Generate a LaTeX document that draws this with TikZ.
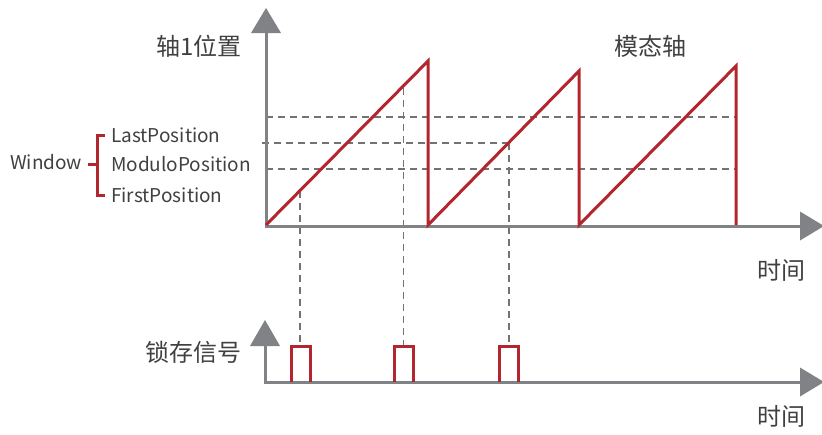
\documentclass[tikz,border=0pt]{standalone}
\usepackage{fontspec}
\setmainfont{Noto Sans CJK SC}
\definecolor{axisgray}{HTML}{808285}
\definecolor{dashgray}{HTML}{737373}
\definecolor{sawred}{HTML}{B3262E}
\definecolor{txt}{HTML}{404040}
\begin{document}
\begin{tikzpicture}[x=1pt,y=-1pt,
  axis/.style={draw=axisgray,line width=3pt},
  tiptri/.style={fill=axisgray},
  saw/.style={draw=sawred,line width=3pt,line join=miter},
  guide/.style={draw=dashgray,line width=1.5pt,dash pattern=on 7pt off 5pt},
  lbl/.style={text=txt,font=\fontsize{24}{24}\selectfont,inner sep=0pt},
  poslbl/.style={text=txt,font=\fontsize{19}{19}\selectfont,inner sep=0pt,anchor=west}]
\useasboundingbox (0,0) rectangle (822,434);
% key points of the sawtooth
\coordinate (s0) at (266,225);
\coordinate (p1) at (428,61);
\coordinate (b1) at (428,225);
\coordinate (p2) at (579,71);
\coordinate (b2) at (579,225);
\coordinate (p3) at (736,66);
\coordinate (b3) at (736,225);
% guides
\draw[guide] (266,117) -- (736,117);
\draw[guide] (262,143) -- (509,143);
\draw[guide] (266,169) -- (736,169);
\draw[guide] (300,191) -- (300,346);
\draw[guide] (403.5,88) -- (403.5,346);
\draw[guide] (509,143) -- (509,346);
% upper axes
\draw[axis] (266,226) -- (266,32);
\fill[tiptri] (251,33) -- (266,8) -- (281,33) -- cycle;
\draw[axis] (264.5,226) -- (801,226);
\fill[tiptri] (800,211.5) -- (824,226) -- (800,240.5) -- cycle;
% lower axes
\draw[axis] (265,382) -- (265,345);
\fill[tiptri] (250,346) -- (265,320) -- (280,346) -- cycle;
\draw[axis] (263.5,382) -- (801,382);
\fill[tiptri] (800,367.5) -- (824,382) -- (800,396.5) -- cycle;
% sawtooth
\draw[saw] (s0) -- (p1) -- (b1) -- (p2) -- (b2) -- (p3) -- (b3);
% latch pulses
\draw[saw] (291,382) -- (291,346) -- (310,346) -- (310,382);
\draw[saw] (394.5,382) -- (394.5,346) -- (413,346) -- (413,382);
\draw[saw] (499.5,382) -- (499.5,346) -- (518,346) -- (518,382);
% window bracket
\draw[saw] (105,135) -- (97,135) -- (97,195) -- (105,195);
\draw[saw] (88,164) -- (97,164);
% labels
\node[lbl] (ylabel) at (199,46) {轴1位置};
\node[lbl] (modlabel) at (650,46.5) {模态轴};
\node[lbl] (t1) at (781.5,270) {时间};
\node[lbl] (t2) at (781.5,416) {时间};
\node[lbl] (latch) at (193,352) {锁存信号};
\node[poslbl] (window) at (10,162) {Window};
\node[poslbl] (last) at (111,135) {LastPosition};
\node[poslbl] (modulo) at (111,164) {ModuloPosition};
\node[poslbl] (first) at (111,195) {FirstPosition};
\end{tikzpicture}
\end{document}
